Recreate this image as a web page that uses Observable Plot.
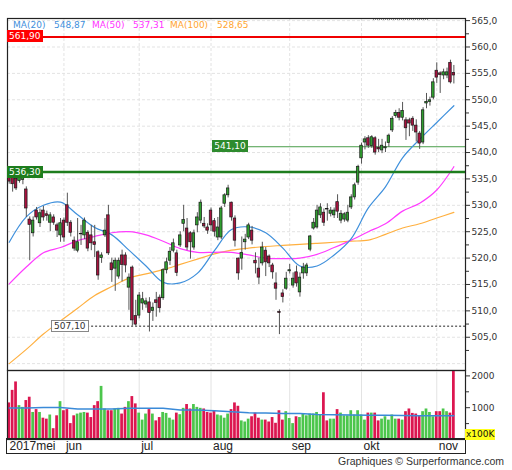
<!DOCTYPE html>
<html><head><meta charset="utf-8">
<script src="https://cdn.jsdelivr.net/npm/d3@7"></script>
<script src="https://cdn.jsdelivr.net/npm/@observablehq/plot@0.6"></script>
<style>
body{margin:0;background:#fff;}
#wrap{position:relative;width:512px;height:470px;overflow:hidden;font-family:"DejaVu Sans",sans-serif;}
#wrap svg{position:absolute;left:0;}
.lbl{position:absolute;font:9px "DejaVu Sans",sans-serif;line-height:12px;height:12px;padding:0 2px;white-space:nowrap;box-sizing:border-box;}
.leg{position:absolute;top:19px;font:9px "DejaVu Sans",sans-serif;line-height:12px;white-space:nowrap;}
</style></head><body><div id="wrap"></div>
<script>
// ---------- data ----------
const open = [535.8,535.5,535.0,534.6,534.8,533.0,527.3,524.7,529.0,526.6,
529.0,528.3,526.7,527.7,526.2,524.3,527.1,530.0,526.7,523.3,
521.4,524.5,524.3,524.8,524.3,523.0,521.1,520.0,524.3,528.1,
519.0,518.0,516.5,520.5,520.5,514.4,518.2,509.0,509.1,511.4,
511.2,511.6,510.0,512.0,512.5,512.4,517.7,519.5,521.4,520.9,
522.4,526.5,525.6,524.7,522.0,526.2,527.1,526.5,525.8,529.0,
527.0,523.9,523.9,530.3,531.9,530.5,527.5,519.9,519.9,523.0,
523.9,525.2,519.5,518.0,519.0,521.4,520.3,518.6,515.2,509.8,
513.3,514.2,517.5,514.8,517.3,513.5,517.1,517.1,521.6,525.6,
525.8,528.1,528.6,529.3,528.4,528.1,530.6,527.1,527.3,527.1,
529.6,531.5,534.3,538.9,541.9,542.7,541.2,542.7,540.9,540.4,
540.8,541.8,544.2,546.9,547.5,546.6,546.1,546.1,546.4,545.1,
543.6,541.9,549.3,549.6,550.4,555.5,555.0,554.6,554.6,557.0,
555.1];
const high = [536.8,536.2,535.8,536.6,536.8,533.5,527.8,527.8,529.6,529.3,
529.8,528.9,528.6,528.2,526.6,527.5,527.6,532.3,527.1,524.0,
527.5,526.2,527.6,525.2,526.2,526.2,521.4,521.0,527.5,530.0,
520.0,520.0,520.0,521.5,521.0,517.0,518.5,512.0,513.5,513.5,
512.4,512.5,511.5,513.5,513.0,518.0,520.0,522.0,523.6,521.5,
525.0,530.0,527.5,525.0,525.3,528.6,531.0,527.7,526.5,529.5,
527.5,527.7,529.8,532.2,533.8,530.6,528.0,520.0,524.0,524.5,
526.6,526.0,521.0,520.0,523.0,522.0,520.6,519.0,517.2,510.2,
514.0,517.3,518.8,517.2,518.5,517.2,519.0,519.0,524.3,527.5,
530.0,530.3,529.3,530.3,529.6,529.5,532.0,529.0,528.6,530.0,
532.0,534.2,537.6,541.8,543.0,543.2,543.2,543.0,542.5,542.5,
542.0,543.5,546.8,548.0,548.3,549.5,546.6,546.5,546.8,546.2,
544.0,548.5,551.2,550.5,554.0,557.0,555.3,555.8,556.0,557.5,
556.5];
const low = [534.0,532.5,532.8,534.2,533.9,527.7,519.5,524.0,527.2,525.8,
527.0,527.0,525.0,526.2,523.9,523.0,523.0,526.0,524.0,521.3,
521.0,522.4,523.5,521.2,521.4,520.1,515.8,519.0,523.9,520.5,
515.4,513.7,516.0,515.5,517.2,510.1,507.1,507.1,508.5,510.1,
510.5,506.0,508.0,508.8,509.6,512.0,517.0,518.6,521.0,516.5,
522.0,525.0,521.4,519.8,521.5,524.8,526.5,525.6,524.5,525.0,
524.0,523.3,523.5,529.6,531.4,527.0,522.1,515.8,517.7,521.5,
523.5,522.5,517.0,515.0,518.5,516.5,518.2,516.0,512.0,505.5,
511.5,513.9,517.0,514.3,514.5,512.6,516.0,516.5,521.2,525.3,
525.5,527.5,526.0,527.0,527.8,527.5,527.5,526.5,526.8,526.7,
529.2,531.0,533.8,537.8,540.5,540.8,540.8,539.5,540.0,539.8,
540.0,541.0,543.8,546.5,546.0,546.0,542.3,543.0,544.0,542.0,
540.6,541.5,548.3,548.8,550.0,553.1,551.2,553.8,554.0,553.0,
553.0];
const close = [534.5,534.0,533.2,535.8,535.9,529.4,526.3,527.1,527.7,528.5,
527.7,528.0,528.1,526.7,525.2,526.6,523.9,526.7,524.8,521.8,
523.0,524.6,527.1,521.8,522.8,522.5,516.7,520.5,525.2,520.9,
517.7,519.5,519.5,518.7,518.6,516.3,508.2,507.4,512.9,512.2,
511.8,509.6,510.6,511.5,510.5,517.7,519.2,521.2,522.8,517.2,
524.3,527.2,522.0,523.0,524.7,527.7,530.5,526.0,525.2,526.2,
525.0,525.8,529.4,531.9,533.2,527.7,523.3,517.1,521.0,523.5,
526.2,523.3,519.0,516.3,522.0,519.2,519.0,517.3,514.2,509.6,
512.6,516.1,517.7,516.1,515.2,516.3,518.2,518.6,524.1,526.7,
529.0,529.6,526.7,529.2,529.0,529.0,528.8,528.4,528.3,528.6,
531.5,533.8,537.3,541.3,542.5,541.3,542.9,540.0,540.6,541.3,
541.0,543.2,546.4,547.5,546.6,547.9,544.6,545.5,545.1,543.8,
541.7,548.0,549.6,549.9,553.3,554.2,554.7,555.2,555.2,553.3,
554.6];
// volume in units of 100K
const volume = [1150,1545,1810,1065,1010,1225,1330,850,940,850,
670,640,770,340,745,1190,905,940,500,745,
800,830,850,830,690,1065,1190,1670,960,905,
905,960,980,800,1010,1190,1350,1120,830,610,
800,940,800,585,690,850,820,670,610,830,
780,980,1100,960,1100,1010,980,960,850,830,
905,770,745,670,800,940,1150,1045,585,550,
640,715,830,670,610,610,550,690,510,905,
610,875,660,500,715,690,800,745,800,800,
850,780,1470,585,640,640,940,830,745,745,
905,770,905,770,610,830,830,830,585,640,
715,610,770,640,640,610,875,960,820,800,
745,875,960,850,715,875,875,960,875,830,
2170];
// moving averages read at every 5th session
const maIndex = [0,5,10,15,20,25,30,35,40,45,50,55,60,65,70,75,80,85,90,95,100,105,110,115,120,125,130];
const ma20  = [523.0,527.8,530.0,530.6,528.2,525.8,524.4,521.5,518.5,515.4,515.3,517.1,521.4,525.4,525.9,524.8,521.9,518.5,518.5,520.6,523.7,529.5,533.5,539.0,542.5,545.7,548.87];
const ma50  = [515.1,518.3,521.0,522.0,523.3,524.1,524.8,525.0,524.4,523.2,521.8,521.1,521.1,521.1,520.6,520.0,519.9,520.0,520.7,522.0,523.4,525.0,526.5,528.9,530.4,532.9,537.31];
const ma100 = [500.0,502.7,505.6,508.1,510.5,512.9,514.6,516.2,517.0,517.8,518.8,519.8,520.8,521.5,521.9,522.2,522.4,522.6,522.8,523.0,523.2,523.4,524.5,525.7,526.5,527.6,528.65];
const volMA = [990,990,1010,1010,960,960,960,980,980,980,930,930,905,873,840,831,820,815,790,780,770,765,760,755,748,744,744];
// horizontal levels
const levelValues = [561.90, 536.30, 541.10, 507.10];
const levelStart  = [-0.5, -0.5, 59.5, 12.4];
const topLineLevel = 565.3, topLineFrom = 106.5, topLineTo = 122.6;
// axes
const priceTicks = d3.range(505, 565.1, 5);
const priceMinor = d3.range(502.5, 565, 5);
const volTicks = [1000, 2000];
const volMinor = [500, 1500];
const monthTicks = [-0.5, 16, 38, 59, 82, 103, 125];
const monthLabels = ["2017mei", "jun", "jul", "aug", "sep", "okt", "nov"];

// ---------- build ----------
const X_DOMAIN = [-0.5, 133.4];
const fmt2 = v => v.toFixed(2).replace(".", ",");
const fmt1 = v => v.toFixed(1).replace(".", ",");
const candles = open.map((o, i) => ({i, open: o, high: high[i], low: low[i], close: close[i], vol: volume[i], up: close[i] >= o}));
const maData = (arr) => maIndex.map((x, j) => ({x, v: arr[j]}));
const GRID = "#e3e3e3";
const wrap = document.getElementById("wrap");

const price = Plot.plot({
  width: 512, height: 370,
  marginLeft: 7, marginRight: 47, marginTop: 18, marginBottom: 0,
  x: {domain: X_DOMAIN, axis: null},
  y: {domain: [498.7, 565.4], axis: null},
  color: {type: "identity"},
  style: {background: "transparent", fontFamily: "DejaVu Sans", fontSize: "9px", color: "#333", overflow: "visible"},
  marks: [
    Plot.ruleY(priceTicks.concat([500]), {stroke: GRID, strokeDasharray: "3,2"}),
    Plot.ruleX(monthTicks.slice(1), {stroke: GRID, strokeDasharray: "3,2"}),
    Plot.ruleY([{y: topLineLevel, x1: topLineFrom, x2: topLineTo}], {y: "y", x1: "x1", x2: "x2", stroke: "#333", strokeDasharray: "1,1"}),
    Plot.ruleY([{y: levelValues[0], x1: levelStart[0], x2: X_DOMAIN[1]}], {y: "y", x1: "x1", x2: "x2", stroke: "#f00000", strokeWidth: 2}),
    Plot.ruleY([{y: levelValues[2], x1: levelStart[2], x2: X_DOMAIN[1]}], {y: "y", x1: "x1", x2: "x2", stroke: "#4a9e4a", strokeWidth: 1}),
    Plot.ruleY([{y: levelValues[3], x1: levelStart[3], x2: X_DOMAIN[1]}], {y: "y", x1: "x1", x2: "x2", stroke: "#222", strokeDasharray: "2,2"}),
    Plot.line(maData(ma100), {x: "x", y: "v", stroke: "#ffb040", strokeWidth: 1.2, curve: "catmull-rom"}),
    Plot.line(maData(ma50), {x: "x", y: "v", stroke: "#ff3cff", strokeWidth: 1.2, curve: "catmull-rom"}),
    Plot.line(maData(ma20), {x: "x", y: "v", stroke: "#3f90dc", strokeWidth: 1.2, curve: "catmull-rom"}),
    Plot.ruleY([{y: levelValues[1], x1: levelStart[1], x2: X_DOMAIN[1]}], {y: "y", x1: "x1", x2: "x2", stroke: "#1d7d1d", strokeWidth: 2.5}),
    Plot.ruleX(candles, {x: "i", y1: "low", y2: "high", stroke: "#555", strokeWidth: 1}),
    Plot.rect(candles, {x1: d => d.i - 0.37, x2: d => d.i + 0.37, y1: "open", y2: "close",
      fill: d => d.up ? "#2f9e2f" : "#a8123e", stroke: "#1a1a1a", strokeWidth: 0.7}),
    Plot.frame({stroke: "#222", strokeWidth: 1.2}),
    Plot.axisY(priceTicks, {anchor: "right", tickSize: 4, tickPadding: 2, tickFormat: fmt1, label: null, fontSize: 9, fill: "#333"}),
    Plot.axisY(priceMinor, {anchor: "right", tickSize: 3, tickFormat: () => "", label: null})
  ]
});
price.style.top = "0px";
wrap.appendChild(price);

const vol = Plot.plot({
  width: 512, height: 84,
  marginLeft: 7, marginRight: 47, marginTop: 0, marginBottom: 15,
  x: {domain: X_DOMAIN, axis: null},
  y: {domain: [0, 2170], axis: null},
  color: {type: "identity"},
  style: {background: "transparent", fontFamily: "DejaVu Sans", fontSize: "9px", color: "#333", overflow: "visible"},
  marks: [
    Plot.ruleX(monthTicks.slice(1), {stroke: GRID}),
    Plot.rect(candles, {x1: d => d.i - 0.4, x2: d => d.i + 0.4, y1: d => 0, y2: "vol",
      fill: d => d.up ? "#4cc64c" : "#dc1650"}),
    Plot.line(maIndex.map((x, j) => ({x, v: volMA[j]})), {x: "x", y: "v", stroke: "#3a8ad8", strokeWidth: 1.5}),
    Plot.frame({stroke: "#222", strokeWidth: 1.2}),
    Plot.axisY(volTicks, {anchor: "right", tickSize: 4, tickPadding: 2, tickFormat: d => String(d), label: null, fontSize: 9, fill: "#333"}),
    Plot.axisY(volMinor, {anchor: "right", tickSize: 3, tickFormat: () => "", label: null}),
    Plot.axisX(monthTicks, {anchor: "bottom", tickSize: 0, tickPadding: 2, label: null, textAnchor: "start", dx: 2,
      tickFormat: d => monthLabels[monthTicks.indexOf(d)], fontSize: 12, fontFamily: "Liberation Sans", fill: "#222"})
  ]
});
vol.style.top = "370px";
wrap.appendChild(vol);

// bottom strip frame
const strip = document.createElement("div");
Object.assign(strip.style, {position: "absolute", left: "6px", top: "438px", width: "460px", height: "16px",
  border: "1.2px solid #222", boxSizing: "border-box", pointerEvents: "none"});
wrap.appendChild(strip);

// x100K badge
const badge = document.createElement("div");
badge.className = "lbl";
badge.textContent = "x100K";
Object.assign(badge.style, {left: "465px", top: "429px", background: "#ffff1a", color: "#111", padding: "0 1px", height: "11px", lineHeight: "11px"});
wrap.appendChild(badge);

// level labels
const sx = d3.scaleLinear(X_DOMAIN, [7, 465]);
const sy = d3.scaleLinear([498.7, 565.4], [370, 18]);
const lblStyles = [
  {background: "#ff0000", color: "#fff"},
  {background: "#1d7d1d", color: "#fff"},
  {background: "#2e8b2e", color: "#fff"},
  {background: "#fff", color: "#333", border: "1px solid #888", lineHeight: "10px"}
];
levelValues.forEach((v, k) => {
  const d = document.createElement("div");
  d.className = "lbl";
  d.textContent = fmt2(v);
  Object.assign(d.style, {left: sx(levelStart[k]) + "px", top: (sy(v) - 6) + "px"}, lblStyles[k]);
  wrap.appendChild(d);
});

// MA legend
const legend = [
  ["MA(20)", 13, "#3f90dc"], [fmt2(ma20[ma20.length - 1]), 54, "#3f90dc"],
  ["MA(50)", 92, "#ff33ff"], [fmt2(ma50[ma50.length - 1]), 133, "#ff33ff"],
  ["MA(100)", 170, "#ffa530"], [fmt2(ma100[ma100.length - 1]), 217, "#ffa530"]
];
legend.forEach(([t, x, c]) => {
  const s = document.createElement("div");
  s.className = "leg"; s.textContent = t;
  Object.assign(s.style, {left: x + "px", color: c});
  wrap.appendChild(s);
});

// caption
const cap = document.createElement("div");
cap.textContent = "Graphiques © Surperformance.com";
Object.assign(cap.style, {position: "absolute", right: "8px", top: "455px", font: "10.5px 'Liberation Sans', Arial, sans-serif", color: "#333", whiteSpace: "nowrap"});
wrap.appendChild(cap);
</script></body></html>
